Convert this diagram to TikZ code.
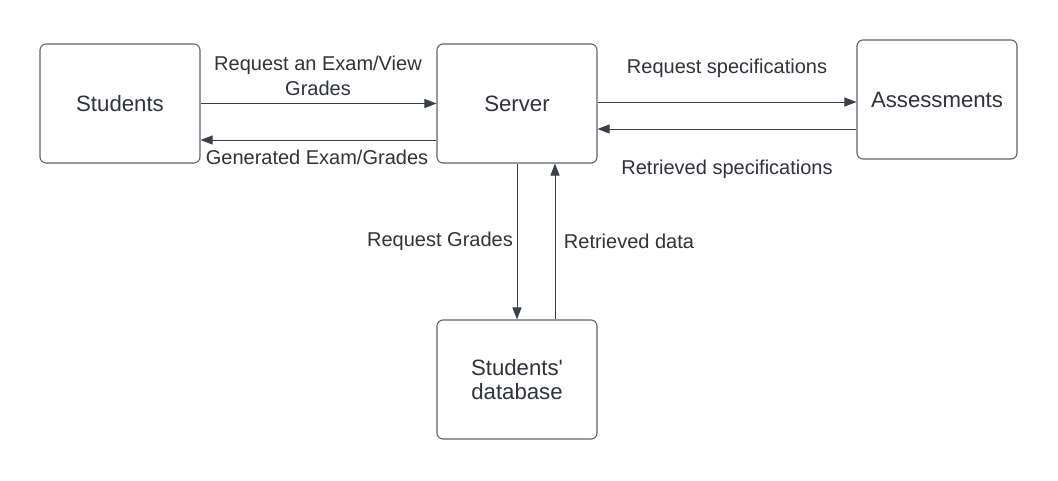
\documentclass[tikz,border=0pt]{standalone}
\usepackage{fontspec}
\setmainfont{Liberation Sans}
\usetikzlibrary{arrows.meta}
\definecolor{txt}{HTML}{2F333A}
\definecolor{linec}{HTML}{3A4049}
\definecolor{boxc}{HTML}{5F646B}
\newcommand{\straightquote}{\XeTeXglyph\XeTeXcharglyph"0027\relax}
\tikzset{
  box/.style={draw=boxc, line width=1.1pt, rounded corners=6pt, minimum width=160pt,
    minimum height=119pt, align=center, text=txt, inner sep=0pt,
    font=\fontsize{22.2}{24}\selectfont},
  lbl/.style={text=txt, align=center, inner sep=0pt, font=\fontsize{20}{25}\selectfont},
  arr/.style={draw=linec, line width=1pt, -{Triangle[length=12pt,width=9pt]}}
}
\begin{document}
\begin{tikzpicture}[x=1pt,y=-1pt]
\path[use as bounding box, fill=white] (0,0) rectangle (1058,480);
\node[box] (stu) at (120,103.5) {Students};
\node[box] (srv) at (517,103.5) {Server};
\node[box] (ass) at (937,99.5) {Assessments};
\node[box] (db) at (517,379.5) {Students\straightquote\\database};
\draw[arr] (stu.east) -- (srv.west);
\draw[arr] ([yshift=-36.5pt]srv.west) -- ([yshift=-36.5pt]srv.west -| stu.east);
\draw[arr] ([yshift=1.5pt]srv.east) -- ([yshift=1.5pt]srv.east -| ass.west);
\draw[arr] ([yshift=-29.5pt]ass.west) -- ([yshift=-29.5pt]ass.west -| srv.east);
\draw[arr] (srv.south) -- (db.north);
\draw[arr] ([xshift=38pt]db.north) -- ([xshift=38pt]srv.south);
\node[lbl] (l1) at (318,75.5) {Request an Exam/View\\Grades};
\node[lbl] (l2) at (317,157) {Generated Exam/Grades};
\node[lbl] (l3) at (727,68) {Request specifications};
\node[lbl] (l4) at (727,169) {Retrieved specifications};
\node[lbl] (l5) at (440,241) {Request Grades};
\node[lbl] (l6) at (629,241) {Retrieved data};
\end{tikzpicture}
\end{document}
